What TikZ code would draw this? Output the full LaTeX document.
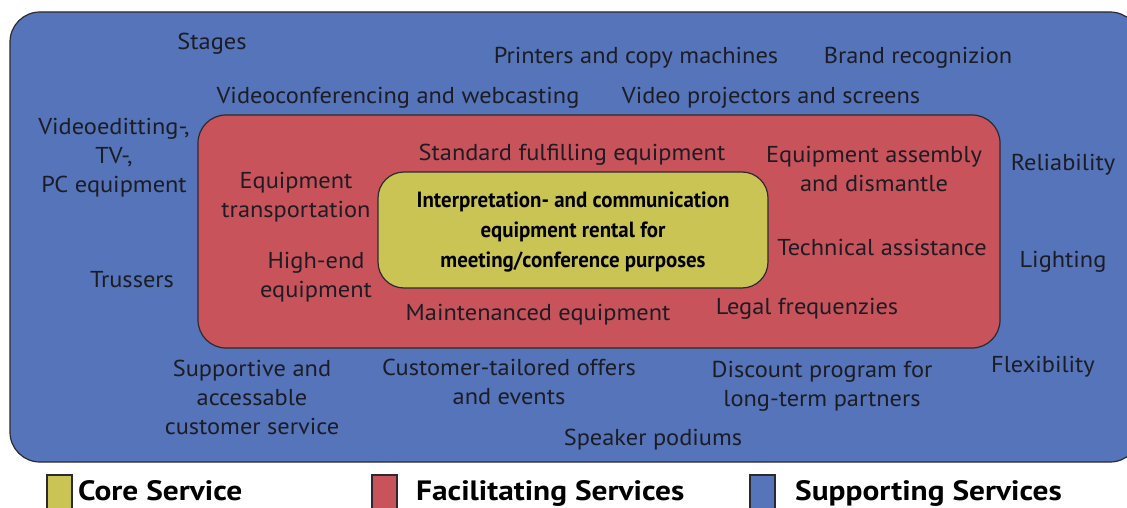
\documentclass[tikz,border=0pt]{standalone}
\usepackage{fontspec}
\setmainfont{PT Sans}
\newfontfamily\bodyfont[FakeStretch=1.06]{PT Sans}
\newfontfamily\condbold[FakeStretch=0.95]{PT Sans Bold}
\newfontfamily\legendfont[FakeStretch=1.12]{PT Sans Bold}
\definecolor{supportblue}{HTML}{5574B9}
\definecolor{facilred}{HTML}{C9535B}
\definecolor{coreyellow}{HTML}{C9C453}
\definecolor{inktext}{HTML}{1C1C24}
\definecolor{edge}{HTML}{2A2A30}
\begin{document}
\begin{tikzpicture}[x=1pt,y=-1pt,
  lbl/.style={text=inktext,font=\bodyfont\fontsize{23}{29}\selectfont,align=center,inner sep=0pt},
  corelbl/.style={text=black,font=\condbold\fontsize{22}{30}\selectfont,align=center,inner sep=0pt},
  legendlbl/.style={text=black,font=\legendfont\fontsize{28}{30}\selectfont,anchor=base west,inner sep=0pt},
  layer/.style={draw=edge,line width=1.2pt},
  legendbox/.style={draw=edge,line width=1.2pt}]
\useasboundingbox (0,0) rectangle (1127,508);
% nested service layers
\draw[layer,fill=supportblue,rounded corners=30] (10,12) rectangle (1140,462);
\draw[layer,fill=facilred,rounded corners=28] (198,115) rectangle (1000,348);
\draw[layer,fill=coreyellow,rounded corners=26] (378,172) rectangle (768,288);
% core service
\node[corelbl] (core) at (573,232) {Interpretation- and communication\\equipment rental for\\meeting/conference purposes};
% facilitating services
\node[lbl] (std) at (572,155) {Standard fulfilling equipment};
\node[lbl] (assembly) at (874,169) {Equipment assembly\\and dismantle};
\node[lbl] (transport) at (296,197) {Equipment\\transportation};
\node[lbl] (highend) at (316,277) {High-end\\equipment};
\node[lbl] (techassist) at (882,247) {Technical assistance};
\node[lbl] (maint) at (538,315) {Maintenanced equipment};
\node[lbl] (legal) at (807,309) {Legal frequenzies};
% supporting services
\node[lbl] (stages) at (212,44) {Stages};
\node[lbl] (printers) at (636,58) {Printers and copy machines};
\node[lbl] (brand) at (918,58) {Brand recognizion};
\node[lbl] (videoconf) at (398,98) {Videoconferencing and webcasting};
\node[lbl] (projectors) at (771,98) {Video projectors and screens};
\node[lbl] (videoedit) at (114,158) {Videoeditting-,\\TV-,\\PC equipment};
\node[lbl] (reliability) at (1063,165) {Reliability};
\node[lbl] (lighting) at (1063,262) {Lighting};
\node[lbl] (trussers) at (132,280) {Trussers};
\node[lbl] (flexibility) at (1043,367) {Flexibility};
\node[lbl] (supportive) at (252,397) {Supportive and\\accessable\\customer service};
\node[lbl] (tailored) at (509,382) {Customer-tailored offers\\and events};
\node[lbl] (discount) at (822,386) {Discount program for\\long-term partners};
\node[lbl] (podiums) at (653,440) {Speaker podiums};
% legend
\draw[legendbox,fill=coreyellow] (47,475) rectangle (72,512);
\node[legendlbl] (lgcore) at (78,500) {Core Service};
\draw[legendbox,fill=facilred] (372,475) rectangle (397,512);
\node[legendlbl] (lgfacil) at (416,500) {Facilitating Services};
\draw[legendbox,fill=supportblue] (750,475) rectangle (775,512);
\node[legendlbl] (lgsupport) at (795,500) {Supporting Services};
\end{tikzpicture}
\end{document}
